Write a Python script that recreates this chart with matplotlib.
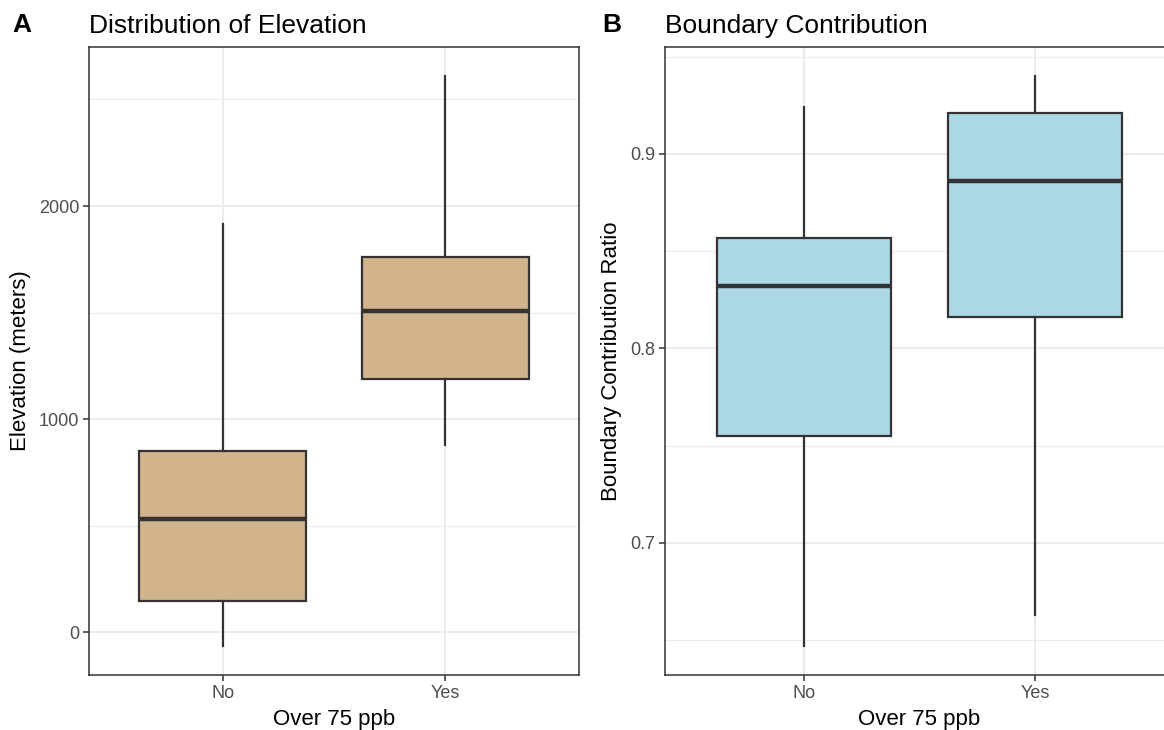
import matplotlib
matplotlib.use("Agg")
import matplotlib.pyplot as plt

plt.rcParams["font.family"] = ["Liberation Sans", "DejaVu Sans"]

# Data (box stats per group)
groups = ["No", "Yes"]
elev_whislo = [-66, 878]
elev_q1 = [146, 1188]
elev_med = [530, 1507]
elev_q3 = [850, 1761]
elev_whishi = [1915, 2610]

bound_whislo = [0.647, 0.663]
bound_q1 = [0.755, 0.816]
bound_med = [0.832, 0.886]
bound_q3 = [0.857, 0.921]
bound_whishi = [0.924, 0.940]

GRID = "#EBEBEB"
DARK = "#333333"
TICKTXT = "#4D4D4D"


def make_stats(lo, q1, med, q3, hi):
    return [dict(whislo=a, q1=b, med=c, q3=d, whishi=e, fliers=[], label=g)
            for a, b, c, d, e, g in zip(lo, q1, med, q3, hi, groups)]


fig = plt.figure(figsize=(11.64, 7.30), dpi=100)
ax1 = fig.add_axes([89 / 1164, 55 / 730, 490 / 1164, 628 / 730])
ax2 = fig.add_axes([665 / 1164, 55 / 730, 509 / 1164, 628 / 730])

box_kw = dict(widths=0.75, showfliers=False, showcaps=False, patch_artist=True,
              whiskerprops=dict(color=DARK, linewidth=1.6),
              medianprops=dict(color=DARK, linewidth=3.2, solid_capstyle="butt"),
              zorder=3)

ax1.bxp(make_stats(elev_whislo, elev_q1, elev_med, elev_q3, elev_whishi),
        boxprops=dict(facecolor="#D2B48C", edgecolor=DARK, linewidth=1.6), **box_kw)
ax2.bxp(make_stats(bound_whislo, bound_q1, bound_med, bound_q3, bound_whishi),
        boxprops=dict(facecolor="#ADD8E6", edgecolor=DARK, linewidth=1.6), **box_kw)

for ax, title, ylabel, ylim, major, minor in [
    (ax1, "Distribution of Elevation", "Elevation (meters)",
     (-200, 2746), [0, 1000, 2000], [500, 1500, 2500]),
    (ax2, "Boundary Contribution", "Boundary Contribution Ratio",
     (0.632, 0.955), [0.7, 0.8, 0.9], [0.65, 0.75, 0.85, 0.95]),
]:
    ax.set_xlim(0.4, 2.6)
    ax.set_ylim(*ylim)
    ax.set_yticks(major)
    ax.set_yticks(minor, minor=True)
    ax.set_xticks([1, 2])
    ax.set_xticklabels(groups)
    ax.grid(True, which="major", color=GRID, linewidth=1.3)
    ax.grid(True, which="minor", axis="y", color=GRID, linewidth=0.7)
    ax.set_axisbelow(True)
    for s in ax.spines.values():
        s.set_color(DARK)
        s.set_linewidth(1.1)
    ax.tick_params(which="major", length=4, width=1.1, color=DARK,
                   labelcolor=TICKTXT, labelsize=13, pad=3)
    ax.tick_params(which="minor", length=0)
    ax.set_xlabel("Over 75 ppb", fontsize=16, labelpad=5)
    ax.set_ylabel(ylabel, fontsize=16, labelpad=6)
    ax.set_title(title, loc="left", fontsize=19, pad=10)

# right panel runs past the edge of the canvas in the reference
ax2.spines["right"].set_visible(False)

fig.text(12 / 1164, 1 - 32 / 730, "A", fontsize=19, fontweight="bold")
fig.text(602 / 1164, 1 - 32 / 730, "B", fontsize=19, fontweight="bold")

fig.savefig("out.png", dpi=100)
